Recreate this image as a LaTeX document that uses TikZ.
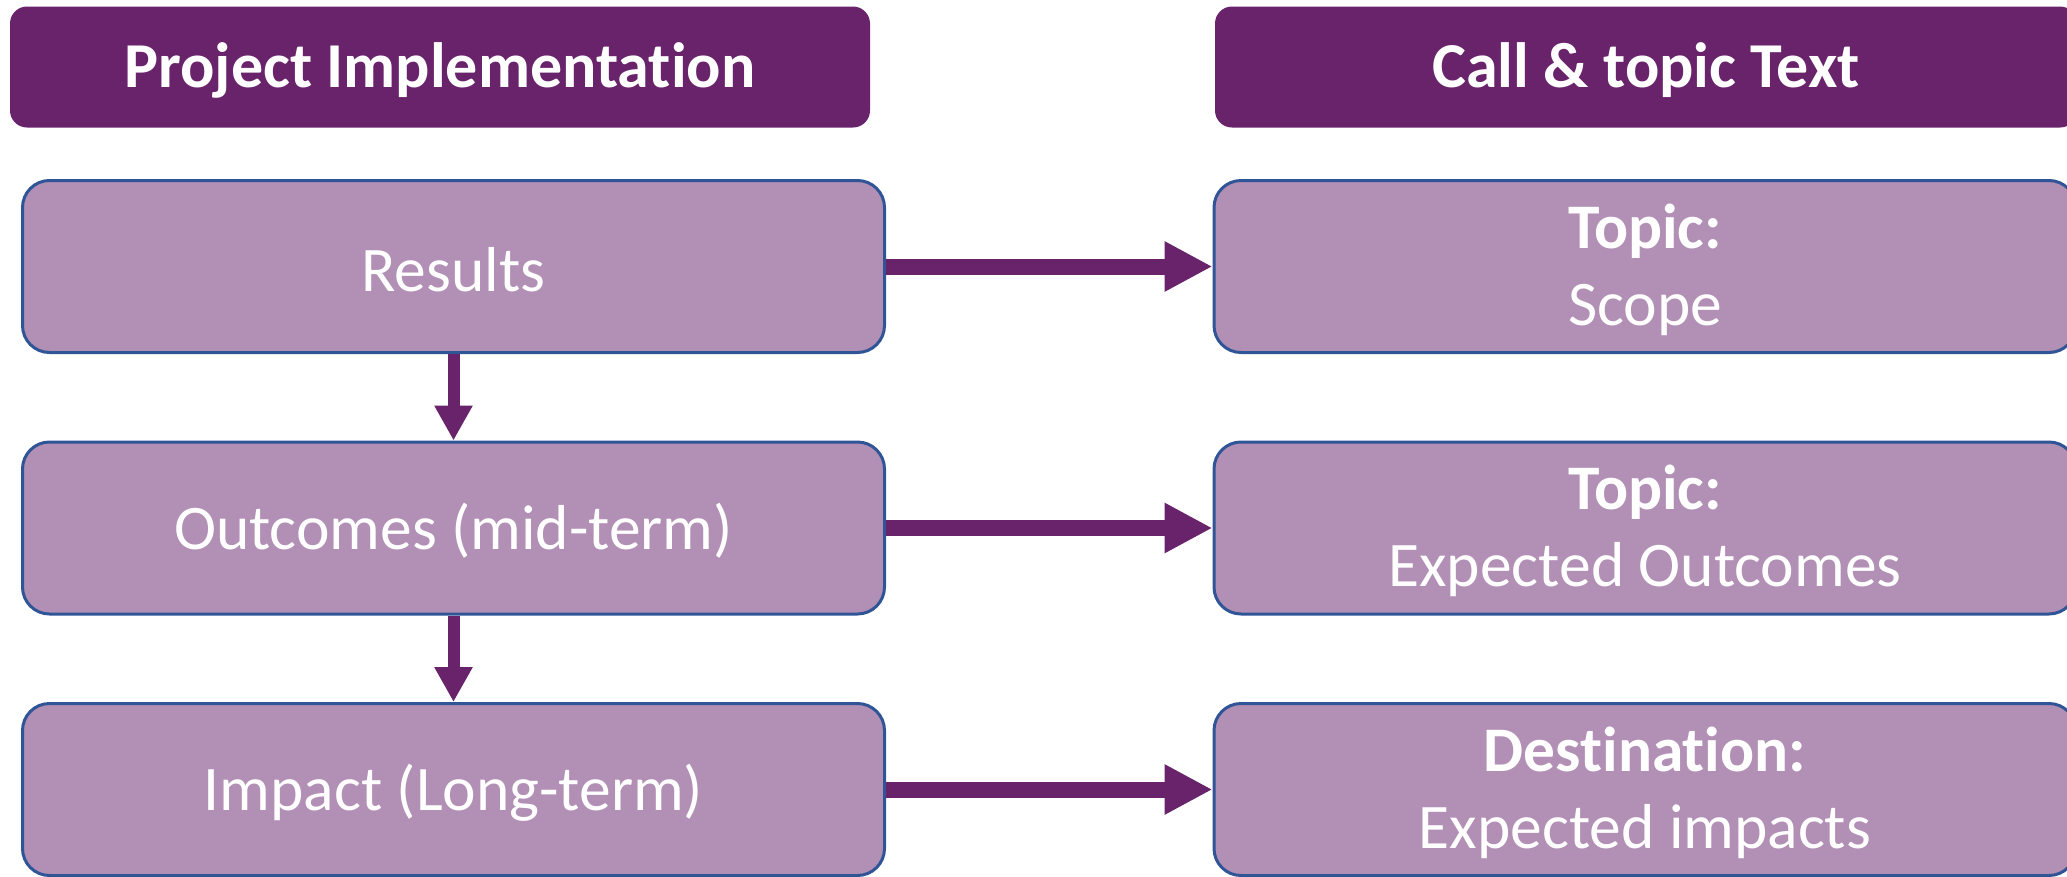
\documentclass[tikz,border=0pt]{standalone}
\usepackage{fontspec}
\setmainfont{Carlito}[Ligatures=CommonOff]
\usetikzlibrary{arrows.meta}
\definecolor{hdr}{RGB}{104,35,107}
\definecolor{boxfill}{RGB}{178,143,181}
\definecolor{boxline}{RGB}{47,85,151}
\begin{document}
\begin{tikzpicture}[x=1pt,y=-1pt,
  header/.style={fill=hdr, rounded corners=17pt, inner sep=0pt,
    minimum height=121pt},
  hdrtext/.style={text=white, font=\fontsize{64}{77}\selectfont\bfseries,
    inner sep=0pt, yshift=-3pt},
  box/.style={fill=boxfill, draw=boxline, line width=3pt, rounded corners=27pt,
    inner sep=0pt, minimum width=862pt, minimum height=172pt},
  boxtext/.style={text=white, font=\fontsize{63.5}{77}\selectfont,
    align=center, inner sep=0pt, yshift=-3pt},
  harrow/.style={draw=hdr, line width=16pt,
    -{Triangle[width=47pt,length=48pt]}},
  varrow/.style={draw=hdr, line width=12pt,
    -{Triangle[width=36pt,length=35pt]}},
]
\useasboundingbox (0,0) rectangle (2067,876);
\clip (0,0) rectangle (2067,876);
\node[header, minimum width=860pt,
  label={[hdrtext, name=h1t]center:Project Implementation}] (h1) at (440,67) {};
\node[header, minimum width=862pt,
  label={[hdrtext, name=h2t]center:Call \& topic Text}] (h2) at (1646,67) {};

\node[box, label={[boxtext, name=r1t]center:Results}] (r1) at (453.5,266.5) {};
\node[box, label={[boxtext, name=o1t]center:Outcomes (mid-term)}] (o1) at (453.5,528) {};
\node[box, label={[boxtext, name=i1t]center:Impact (Long-term)}] (i1) at (453.5,789.5) {};

\node[box, label={[boxtext, name=t1t]center:\textbf{Topic:}\\Scope}] (t1) at (1645,266.5) {};
\node[box, label={[boxtext, name=t2t]center:\textbf{Topic:}\\Expected Outcomes}] (t2) at (1645,528) {};
\node[box, label={[boxtext, name=t3t]center:\textbf{Destination:}\\Expected impacts}] (t3) at (1645,789.5) {};

\draw[harrow] (r1) -- (t1);
\draw[harrow] (o1) -- (t2);
\draw[harrow] (i1) -- (t3);
\draw[varrow] (r1) -- (o1);
\draw[varrow] (o1) -- (i1);
\end{tikzpicture}
\end{document}
